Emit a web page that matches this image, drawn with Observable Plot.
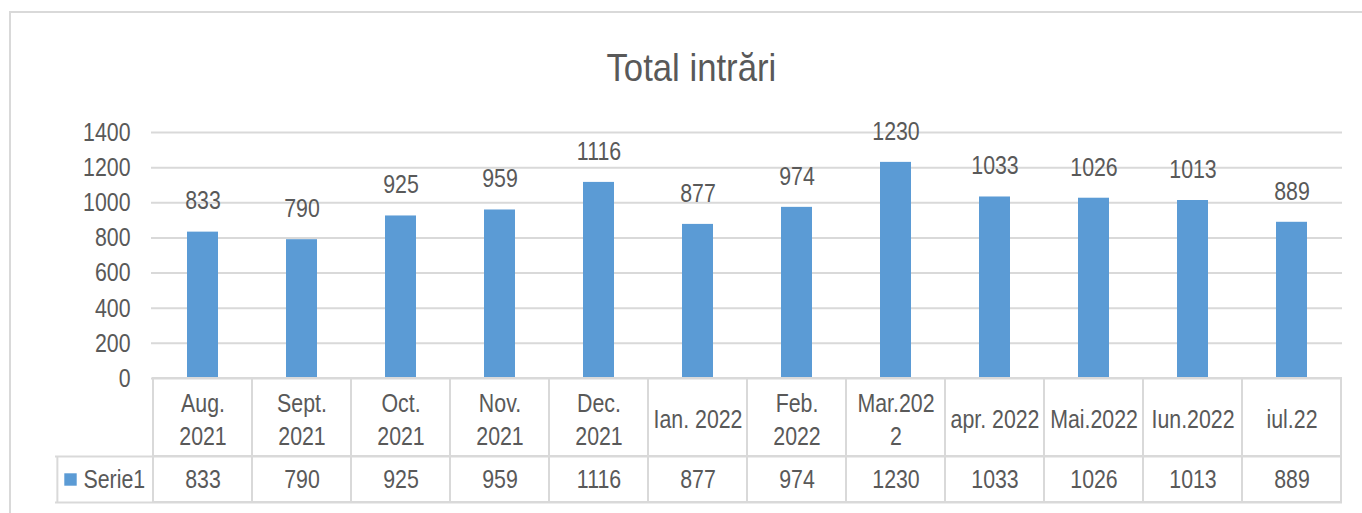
<!DOCTYPE html>
<html>
<head>
<meta charset="utf-8">
<script src="https://cdn.jsdelivr.net/npm/d3@7"></script>
<script src="https://cdn.jsdelivr.net/npm/@observablehq/plot@0.6"></script>
<style>
  html, body { margin: 0; padding: 0; background: #fff; }
  #wrap { position: relative; width: 1362px; height: 513px; overflow: hidden; background: #fff;
          font-family: "Liberation Sans", Arial, sans-serif; }
  #frame { position: absolute; left: 9px; top: 11px; width: 1400px; height: 600px;
           border-left: 2px solid #d9d9d9; border-top: 2px solid #d9d9d9; box-sizing: border-box; }
  #title { position: relative; height: 95px; box-sizing: border-box; padding-top: 48px; padding-left: 20px;
           text-align: center; font-size: 39px; line-height: 39px; color: #595959; }
  #title span { display: inline-block; transform: scaleX(0.89); transform-origin: center; }
  #chart svg { display: block; }
</style>
</head>
<body>
<div id="wrap">
  <div id="frame"></div>
  <div id="title"><span></span></div>
  <div id="chart"></div>
</div>
<script>
const chartTitle = "Total intrări";
const seriesName = "Serie1";
const months = ["Aug.\n2021", "Sept.\n2021", "Oct.\n2021", "Nov.\n2021", "Dec.\n2021", "Ian. 2022",
                "Feb.\n2022", "Mar.202\n2", "apr. 2022", "Mai.2022", "Iun.2022", "iul.22"];
const values = [833, 790, 925, 959, 1116, 877, 974, 1230, 1033, 1026, 1013, 889];
const yTicks = [0, 200, 400, 600, 800, 1000, 1200, 1400];

const data = months.map((m, i) => ({month: m, value: values[i]}));

document.querySelector("#title span").textContent = chartTitle;

const W = 1362, H = 418, mL = 151, mR = 20, mT = 37, mB = 135;
const bw = (W - mL - mR) / months.length;
const gridColor = "#d9d9d9";
const textColor = "#595959";
const barColor = "#5B9BD5";
const font = "'Liberation Sans', Arial, sans-serif";
const fs = 26;

const chart = Plot.plot({
  width: W, height: H,
  marginLeft: mL, marginRight: mR, marginTop: mT, marginBottom: mB,
  style: {fontFamily: font, fontSize: fs + "px", color: textColor, background: "transparent"},
  x: {type: "band", domain: months, padding: 0, axis: null},
  y: {domain: [0, 1400], axis: null},
  marks: [
    Plot.gridY(yTicks, {stroke: gridColor, strokeOpacity: 1, strokeWidth: 2}),
    Plot.axisY(yTicks, {tickSize: 0, tickPadding: 21, fontSize: fs, fill: textColor, label: null, tickFormat: d => String(d)}),
    Plot.barY(data, {x: "month", y: "value", fill: barColor, insetLeft: 34, insetRight: 34}),
    Plot.text(data, {x: "month", y: "value", text: d => String(d.value), dy: -31, fontSize: fs, fill: textColor}),
    // data table cells
    Plot.barY(data, {x: "month", y1: 0, y2: 0, insetBottom: -78, fill: "none", stroke: gridColor, strokeWidth: 2}),
    Plot.barY(data, {x: "month", y1: 0, y2: 0, insetTop: 78, insetBottom: -124, fill: "none", stroke: gridColor, strokeWidth: 2}),
    Plot.ruleY([0], {dy: 78, insetLeft: -96, stroke: gridColor, strokeWidth: 2}),
    Plot.ruleY([0], {dy: 124, insetLeft: -96, stroke: gridColor, strokeWidth: 2}),
    Plot.ruleX([months[0]], {y1: 0, y2: 0, insetTop: 78, insetBottom: -124, dx: -bw / 2 - 96, stroke: gridColor, strokeWidth: 2}),
    Plot.text(data, {x: "month", y: 0, dy: 39, text: "month", lineAnchor: "middle", lineHeight: 1.28, fontSize: fs, fill: textColor}),
    Plot.text(data, {x: "month", y: 0, dy: 101, text: d => String(d.value), fontSize: fs, fill: textColor}),
    // legend key
    Plot.dot([seriesName], {y: 0, frameAnchor: "left", dx: -81, dy: 101, symbol: "square", r: 7, fill: barColor}),
    Plot.text([seriesName], {y: 0, frameAnchor: "left", textAnchor: "start", dx: -68, dy: 101, text: d => d, fontSize: fs, fill: textColor})
  ]
});
document.getElementById("chart").appendChild(chart);

// Condense glyphs horizontally to mimic the narrow Office font of the original
const condense = 0.82;
chart.querySelectorAll("text").forEach(t => {
  const spans = t.querySelectorAll("tspan");
  const targets = spans.length ? Array.from(spans) : [t];
  targets.forEach(el => {
    const len = el.getComputedTextLength();
    if (len > 0) {
      el.setAttribute("textLength", (len * condense).toFixed(2));
      el.setAttribute("lengthAdjust", "spacingAndGlyphs");
    }
  });
});
</script>
</body>
</html>
